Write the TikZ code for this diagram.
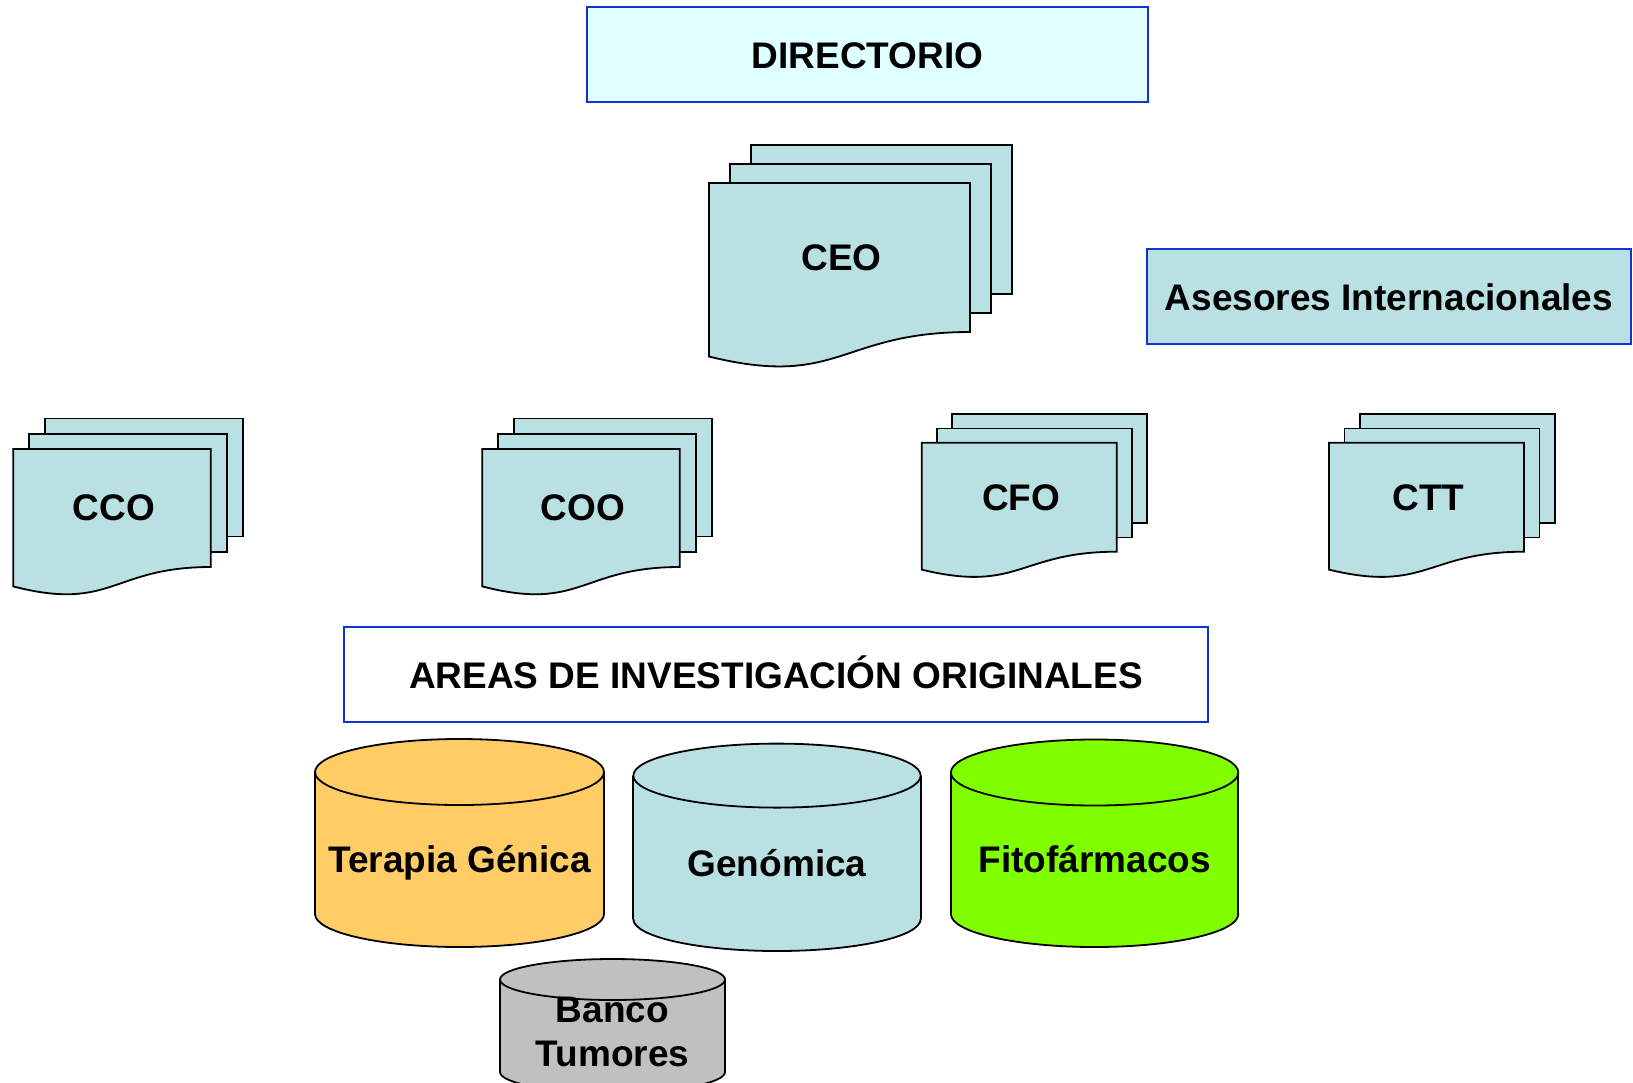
\documentclass[tikz,border=0pt]{standalone}
\usepackage{fontspec}
\setmainfont{Liberation Sans}
\definecolor{docblue}{RGB}{185,224,227}
\definecolor{dirfill}{RGB}{224,255,255}
\definecolor{boxblue}{RGB}{20,50,210}
\definecolor{tgfill}{RGB}{255,204,102}
\definecolor{fitofill}{RGB}{128,255,0}
\definecolor{bancofill}{RGB}{192,192,192}
\tikzset{
  outl/.style={draw=black,line width=1.8pt,line join=miter},
  docstyle/.style={outl,fill=docblue},
  lbl/.style={font=\fontsize{37}{44}\selectfont\bfseries,inner sep=0pt,anchor=base,align=center},
  bluebox/.style={draw=boxblue,line width=2pt,inner sep=0pt,text height=27pt,text depth=0pt,
    font=\fontsize{37}{44}\selectfont\bfseries},
}
% #1 name, #2 x0, #3 y0, #4 w, #5 right height, #6 dx, #7 dy, #8 baseline offset, #9 text
\newcommand\mdoc[9]{%
  \draw[docstyle] ({#2+2*#6},{#3-2*#7}) rectangle ({#2+#4+2*#6},{#3-2*#7+#5});
  \draw[docstyle] ({#2+#6},{#3-#7}) rectangle ({#2+#4+#6},{#3-#7+#5});
  \draw[docstyle] (#2,#3) -- ({#2+#4},#3) -- ({#2+#4},{#3+#5})
     .. controls ({#2+#4/2},{#3+#5}) and ({#2+#4/2},{#3+1.381*#5}) .. (#2,{#3+1.1646*#5}) -- cycle;
  \node[lbl] (#1) at ({#2+#4/2+2},{#3+#8}) {#9};
}
% #1 name, #2 cx, #3 top centre y, #4 rx, #5 ry, #6 bottom centre y, #7 fill, #8 baseline y, #9 text
\newcommand\mcyl[9]{%
  \filldraw[outl,fill=#7] (#2,#6) ellipse [x radius=#4, y radius=#5];
  \fill[#7] ({#2-#4},#3) rectangle ({#2+#4},#6);
  \draw[outl] ({#2-#4},#3) -- ({#2-#4},#6);
  \draw[outl] ({#2+#4},#3) -- ({#2+#4},#6);
  \filldraw[outl,fill=#7] (#2,#3) ellipse [x radius=#4, y radius=#5];
  \node[lbl] (#1) at (#2,#8) {#9};
}
\begin{document}
\begin{tikzpicture}[x=1pt,y=-1pt]
\useasboundingbox (0,0) rectangle (1633,1082);
\fill[white] (0,0) rectangle (1633,1082);

\node[bluebox,fill=dirfill,minimum width=561pt,minimum height=95pt] (dir) at (867.5,54.5) {DIRECTORIO};
\node[bluebox,fill=docblue,minimum width=484pt,minimum height=95pt] (ases) at (1389,296.5) {Asesores Internacionales};

\mdoc{ceo}{709}{183}{261}{149}{21}{19}{87}{CEO}
\mdoc{cco}{13.3}{449}{197.4}{118}{16}{15.3}{71}{CCO}
\mdoc{coo}{482.3}{449}{197.4}{118}{16}{15.3}{71}{COO}
\mdoc{cfo}{921.7}{442.7}{195}{109}{15}{14.2}{67.3}{CFO}
\mdoc{ctt}{1329}{442.7}{195}{109}{15.5}{14.2}{67.3}{CTT}

\node[bluebox,fill=white,minimum width=864pt,minimum height=95pt] (areas) at (776,674.5) {AREAS DE INVESTIGACIÓN ORIGINALES};

\mcyl{terapia}{459.5}{772}{144.5}{33}{914}{tgfill}{872}{Terapia Génica}
\mcyl{genomica}{777}{775.6}{143.7}{32}{919}{docblue}{876.5}{Genómica}
\mcyl{fito}{1094.6}{772.5}{143.7}{33}{914}{fitofill}{872}{Fitofármacos}
\mcyl{banco}{612.5}{979.5}{112.5}{20.5}{1072}{bancofill}{1066}{Banco\\Tumores}
\end{tikzpicture}
\end{document}
